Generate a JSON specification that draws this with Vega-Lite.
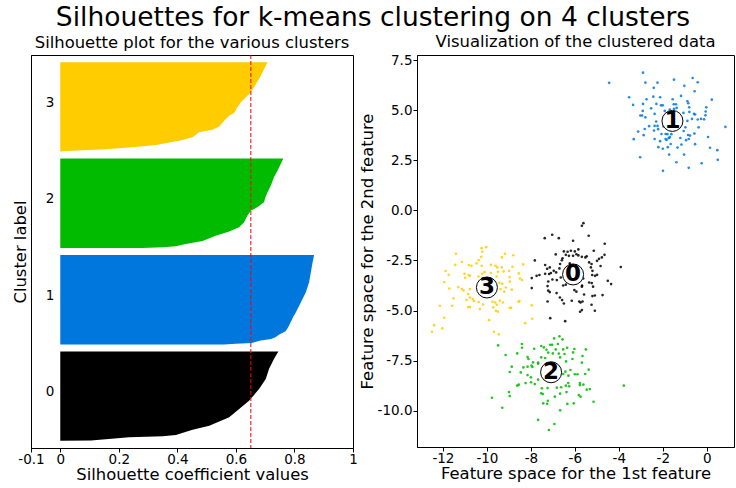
{
  "$schema": "https://vega.github.io/schema/vega-lite/v6.json",
  "background": "white",
  "padding": {"left": 11, "top": 4, "right": 0, "bottom": 1},
  "title": {
    "text": "Silhouettes for k-means clustering on 4 clusters",
    "fontSize": 26.5,
    "fontWeight": "normal",
    "font": "DejaVu Sans",
    "color": "black",
    "anchor": "middle",
    "offset": 2
  },
  "config": {
    "font": "DejaVu Sans",
    "view": {"stroke": "black", "strokeWidth": 1},
    "axis": {
      "domainColor": "black",
      "tickColor": "black",
      "labelColor": "black",
      "titleColor": "black",
      "labelFont": "DejaVu Sans",
      "titleFont": "DejaVu Sans",
      "labelFontSize": 13.5,
      "titleFontSize": 16.4,
      "titleFontWeight": "normal",
      "grid": false,
      "tickSize": 4,
      "labelPadding": 0,
      "labelOverlap": false,
      "labelFlush": false
    },
    "title": {"fontWeight": "normal", "color": "black", "font": "DejaVu Sans"},
    "concat": {"spacing": 0}
  },
  "datasets": {
    "silhouette": [
      {"cluster": "0", "pos": 10, "value": 0.0},
      {"cluster": "0", "pos": 10.5, "value": 0.105},
      {"cluster": "0", "pos": 15, "value": 0.235},
      {"cluster": "0", "pos": 16.4, "value": 0.35},
      {"cluster": "0", "pos": 18.2, "value": 0.395},
      {"cluster": "0", "pos": 25.6, "value": 0.452},
      {"cluster": "0", "pos": 31.2, "value": 0.509},
      {"cluster": "0", "pos": 42.9, "value": 0.577},
      {"cluster": "0", "pos": 54.5, "value": 0.611},
      {"cluster": "0", "pos": 66.1, "value": 0.645},
      {"cluster": "0", "pos": 68.5, "value": 0.65},
      {"cluster": "0", "pos": 82.5, "value": 0.679},
      {"cluster": "0", "pos": 96.5, "value": 0.702},
      {"cluster": "0", "pos": 110.5, "value": 0.713},
      {"cluster": "0", "pos": 124.5, "value": 0.730},
      {"cluster": "0", "pos": 135, "value": 0.745},
      {"cluster": "1", "pos": 145, "value": 0.56},
      {"cluster": "1", "pos": 146, "value": 0.60},
      {"cluster": "1", "pos": 147, "value": 0.655},
      {"cluster": "1", "pos": 150, "value": 0.68},
      {"cluster": "1", "pos": 152.7, "value": 0.72},
      {"cluster": "1", "pos": 155, "value": 0.735},
      {"cluster": "1", "pos": 158.8, "value": 0.748},
      {"cluster": "1", "pos": 163.5, "value": 0.77},
      {"cluster": "1", "pos": 170, "value": 0.78},
      {"cluster": "1", "pos": 176, "value": 0.787},
      {"cluster": "1", "pos": 183, "value": 0.795},
      {"cluster": "1", "pos": 190, "value": 0.805},
      {"cluster": "1", "pos": 204, "value": 0.822},
      {"cluster": "1", "pos": 218, "value": 0.839},
      {"cluster": "1", "pos": 232, "value": 0.85},
      {"cluster": "1", "pos": 246, "value": 0.856},
      {"cluster": "1", "pos": 260, "value": 0.862},
      {"cluster": "1", "pos": 270, "value": 0.867},
      {"cluster": "2", "pos": 280, "value": 0.28},
      {"cluster": "2", "pos": 281, "value": 0.35},
      {"cluster": "2", "pos": 282.3, "value": 0.395},
      {"cluster": "2", "pos": 285.5, "value": 0.429},
      {"cluster": "2", "pos": 289.7, "value": 0.486},
      {"cluster": "2", "pos": 297, "value": 0.531},
      {"cluster": "2", "pos": 303, "value": 0.577},
      {"cluster": "2", "pos": 309, "value": 0.611},
      {"cluster": "2", "pos": 316, "value": 0.628},
      {"cluster": "2", "pos": 325, "value": 0.639},
      {"cluster": "2", "pos": 332, "value": 0.651},
      {"cluster": "2", "pos": 337, "value": 0.673},
      {"cluster": "2", "pos": 344, "value": 0.696},
      {"cluster": "2", "pos": 350, "value": 0.70},
      {"cluster": "2", "pos": 358, "value": 0.708},
      {"cluster": "2", "pos": 367, "value": 0.719},
      {"cluster": "2", "pos": 379, "value": 0.730},
      {"cluster": "2", "pos": 388, "value": 0.742},
      {"cluster": "2", "pos": 397.5, "value": 0.753},
      {"cluster": "2", "pos": 405, "value": 0.762},
      {"cluster": "3", "pos": 415, "value": -0.01},
      {"cluster": "3", "pos": 416, "value": 0.04},
      {"cluster": "3", "pos": 417, "value": 0.10},
      {"cluster": "3", "pos": 418, "value": 0.156},
      {"cluster": "3", "pos": 421, "value": 0.247},
      {"cluster": "3", "pos": 424, "value": 0.327},
      {"cluster": "3", "pos": 430, "value": 0.406},
      {"cluster": "3", "pos": 435, "value": 0.452},
      {"cluster": "3", "pos": 441.8, "value": 0.474},
      {"cluster": "3", "pos": 445.5, "value": 0.52},
      {"cluster": "3", "pos": 450, "value": 0.543},
      {"cluster": "3", "pos": 458, "value": 0.56},
      {"cluster": "3", "pos": 465, "value": 0.577},
      {"cluster": "3", "pos": 469, "value": 0.594},
      {"cluster": "3", "pos": 477, "value": 0.605},
      {"cluster": "3", "pos": 484, "value": 0.617},
      {"cluster": "3", "pos": 491, "value": 0.634},
      {"cluster": "3", "pos": 498, "value": 0.651},
      {"cluster": "3", "pos": 509, "value": 0.668},
      {"cluster": "3", "pos": 521, "value": 0.685},
      {"cluster": "3", "pos": 530, "value": 0.696},
      {"cluster": "3", "pos": 540, "value": 0.708}
    ],
    "clusterLabels": [
      {"cluster": "0", "pos": 72.5},
      {"cluster": "1", "pos": 207.5},
      {"cluster": "2", "pos": 342.5},
      {"cluster": "3", "pos": 477.5}
    ],
    "average": [{"avg": 0.651}],
    "centers": [
      {"cluster": "0", "x": -6.08, "y": -3.20},
      {"cluster": "1", "x": -1.56, "y": 4.46},
      {"cluster": "2", "x": -7.08, "y": -8.08},
      {"cluster": "3", "x": -10.0, "y": -3.85}
    ],
    "points": [
      {"cluster": "1", "x": -2.90, "y": 6.87}, {"cluster": "1", "x": -4.44, "y": 6.36}, {"cluster": "1", "x": -2.79, "y": 6.37},
      {"cluster": "1", "x": -2.24, "y": 6.37}, {"cluster": "1", "x": -1.49, "y": 6.52}, {"cluster": "1", "x": -0.64, "y": 6.60},
      {"cluster": "1", "x": -0.41, "y": 6.39}, {"cluster": "1", "x": -2.41, "y": 6.11}, {"cluster": "1", "x": -1.02, "y": 6.21},
      {"cluster": "1", "x": -0.55, "y": 5.94}, {"cluster": "1", "x": -3.53, "y": 5.64}, {"cluster": "1", "x": -2.12, "y": 5.64},
      {"cluster": "1", "x": -2.43, "y": 5.67}, {"cluster": "1", "x": -1.17, "y": 5.71}, {"cluster": "1", "x": 0.23, "y": 5.52},
      {"cluster": "1", "x": -3.35, "y": 5.26}, {"cluster": "1", "x": -2.90, "y": 5.31}, {"cluster": "1", "x": -2.74, "y": 5.54},
      {"cluster": "1", "x": -2.29, "y": 5.31}, {"cluster": "1", "x": -2.08, "y": 5.24}, {"cluster": "1", "x": -2.00, "y": 5.24},
      {"cluster": "1", "x": -1.55, "y": 5.54}, {"cluster": "1", "x": -1.50, "y": 5.29}, {"cluster": "1", "x": -1.40, "y": 5.29},
      {"cluster": "1", "x": -0.88, "y": 5.44}, {"cluster": "1", "x": -0.84, "y": 5.34}, {"cluster": "1", "x": -2.53, "y": 5.09},
      {"cluster": "1", "x": -2.91, "y": 4.96}, {"cluster": "1", "x": -1.91, "y": 4.96}, {"cluster": "1", "x": -1.68, "y": 5.03},
      {"cluster": "1", "x": -1.49, "y": 5.06}, {"cluster": "1", "x": -1.37, "y": 5.11}, {"cluster": "1", "x": -0.80, "y": 5.14},
      {"cluster": "1", "x": -0.02, "y": 5.14}, {"cluster": "1", "x": -0.05, "y": 4.93}, {"cluster": "1", "x": -3.02, "y": 4.73},
      {"cluster": "1", "x": -2.94, "y": 4.73}, {"cluster": "1", "x": -2.79, "y": 4.64}, {"cluster": "1", "x": -2.37, "y": 4.81},
      {"cluster": "1", "x": -0.58, "y": 4.81}, {"cluster": "1", "x": -0.53, "y": 4.78}, {"cluster": "1", "x": -0.79, "y": 4.91},
      {"cluster": "1", "x": -1.06, "y": 4.86}, {"cluster": "1", "x": -0.67, "y": 4.56}, {"cluster": "1", "x": -0.41, "y": 4.53},
      {"cluster": "1", "x": -0.26, "y": 4.56}, {"cluster": "1", "x": -0.12, "y": 4.54}, {"cluster": "1", "x": -0.06, "y": 4.74},
      {"cluster": "1", "x": -0.88, "y": 4.46}, {"cluster": "1", "x": -2.30, "y": 4.43}, {"cluster": "1", "x": -2.62, "y": 4.20},
      {"cluster": "1", "x": -2.37, "y": 4.21}, {"cluster": "1", "x": -2.24, "y": 4.21}, {"cluster": "1", "x": -2.21, "y": 4.05},
      {"cluster": "1", "x": -1.97, "y": 4.18}, {"cluster": "1", "x": -0.97, "y": 4.14}, {"cluster": "1", "x": -0.37, "y": 4.14},
      {"cluster": "1", "x": 0.85, "y": 4.16}, {"cluster": "1", "x": -3.12, "y": 3.93}, {"cluster": "1", "x": -2.82, "y": 4.06},
      {"cluster": "1", "x": -2.40, "y": 3.98}, {"cluster": "1", "x": -2.06, "y": 3.81}, {"cluster": "1", "x": -1.87, "y": 3.81},
      {"cluster": "1", "x": -1.79, "y": 3.80}, {"cluster": "1", "x": -1.61, "y": 3.80}, {"cluster": "1", "x": -1.05, "y": 3.96},
      {"cluster": "1", "x": -0.85, "y": 3.76}, {"cluster": "1", "x": -0.76, "y": 3.73}, {"cluster": "1", "x": -0.56, "y": 3.83},
      {"cluster": "1", "x": 0.06, "y": 3.66}, {"cluster": "1", "x": -3.32, "y": 3.55}, {"cluster": "1", "x": -2.87, "y": 3.75},
      {"cluster": "1", "x": -2.37, "y": 3.56}, {"cluster": "1", "x": -2.12, "y": 3.45}, {"cluster": "1", "x": -1.87, "y": 3.56},
      {"cluster": "1", "x": -1.68, "y": 3.65}, {"cluster": "1", "x": -1.83, "y": 3.51}, {"cluster": "1", "x": -1.73, "y": 3.60},
      {"cluster": "1", "x": -1.20, "y": 3.61}, {"cluster": "1", "x": -0.94, "y": 3.50}, {"cluster": "1", "x": -0.82, "y": 3.56},
      {"cluster": "1", "x": -2.20, "y": 3.15}, {"cluster": "1", "x": -2.00, "y": 3.07}, {"cluster": "1", "x": -1.77, "y": 3.15},
      {"cluster": "1", "x": -1.64, "y": 3.31}, {"cluster": "1", "x": -1.33, "y": 3.13}, {"cluster": "1", "x": -1.15, "y": 3.28},
      {"cluster": "1", "x": -0.53, "y": 3.30}, {"cluster": "1", "x": 0.15, "y": 3.12}, {"cluster": "1", "x": 0.48, "y": 3.00},
      {"cluster": "1", "x": -1.71, "y": 2.78}, {"cluster": "1", "x": -1.03, "y": 2.78}, {"cluster": "1", "x": -3.03, "y": 2.65},
      {"cluster": "1", "x": -1.38, "y": 2.40}, {"cluster": "1", "x": -0.23, "y": 2.35}, {"cluster": "1", "x": 0.50, "y": 2.52},
      {"cluster": "1", "x": -0.82, "y": 2.12}, {"cluster": "1", "x": -1.99, "y": 1.97},

      {"cluster": "3", "x": -10.24, "y": -1.89}, {"cluster": "3", "x": -10.03, "y": -1.84}, {"cluster": "3", "x": -10.21, "y": -2.07},
      {"cluster": "3", "x": -11.41, "y": -2.17}, {"cluster": "3", "x": -10.26, "y": -2.32}, {"cluster": "3", "x": -9.18, "y": -2.17},
      {"cluster": "3", "x": -8.80, "y": -2.24}, {"cluster": "3", "x": -9.32, "y": -2.35}, {"cluster": "3", "x": -10.38, "y": -2.49},
      {"cluster": "3", "x": -10.47, "y": -2.65}, {"cluster": "3", "x": -11.14, "y": -2.58}, {"cluster": "3", "x": -11.44, "y": -2.72},
      {"cluster": "3", "x": -10.82, "y": -2.73}, {"cluster": "3", "x": -10.70, "y": -2.77}, {"cluster": "3", "x": -10.24, "y": -2.77},
      {"cluster": "3", "x": -9.82, "y": -2.72}, {"cluster": "3", "x": -9.61, "y": -2.77}, {"cluster": "3", "x": -9.53, "y": -2.85},
      {"cluster": "3", "x": -9.32, "y": -2.85}, {"cluster": "3", "x": -8.84, "y": -2.82}, {"cluster": "3", "x": -8.35, "y": -2.70},
      {"cluster": "3", "x": -11.88, "y": -3.03}, {"cluster": "3", "x": -11.74, "y": -3.22}, {"cluster": "3", "x": -11.02, "y": -3.17},
      {"cluster": "3", "x": -10.83, "y": -3.23}, {"cluster": "3", "x": -10.21, "y": -3.17}, {"cluster": "3", "x": -10.11, "y": -3.08},
      {"cluster": "3", "x": -9.82, "y": -3.13}, {"cluster": "3", "x": -9.50, "y": -3.07}, {"cluster": "3", "x": -9.24, "y": -3.05},
      {"cluster": "3", "x": -8.99, "y": -3.03}, {"cluster": "3", "x": -8.55, "y": -3.15}, {"cluster": "3", "x": -10.99, "y": -3.37},
      {"cluster": "3", "x": -10.77, "y": -3.27}, {"cluster": "3", "x": -10.38, "y": -3.30}, {"cluster": "3", "x": -9.56, "y": -3.30},
      {"cluster": "3", "x": -8.97, "y": -3.33}, {"cluster": "3", "x": -8.50, "y": -3.40}, {"cluster": "3", "x": -8.96, "y": -3.55},
      {"cluster": "3", "x": -8.40, "y": -3.48}, {"cluster": "3", "x": -11.94, "y": -3.58}, {"cluster": "3", "x": -11.30, "y": -3.83},
      {"cluster": "3", "x": -11.14, "y": -3.93}, {"cluster": "3", "x": -11.06, "y": -4.00}, {"cluster": "3", "x": -10.77, "y": -3.93},
      {"cluster": "3", "x": -9.43, "y": -3.62}, {"cluster": "3", "x": -9.30, "y": -3.67}, {"cluster": "3", "x": -9.38, "y": -3.93},
      {"cluster": "3", "x": -9.14, "y": -3.85}, {"cluster": "3", "x": -8.87, "y": -3.96}, {"cluster": "3", "x": -9.21, "y": -4.06},
      {"cluster": "3", "x": -11.71, "y": -3.90}, {"cluster": "3", "x": -10.85, "y": -4.18}, {"cluster": "3", "x": -10.77, "y": -4.35},
      {"cluster": "3", "x": -10.65, "y": -4.43}, {"cluster": "3", "x": -10.38, "y": -4.58}, {"cluster": "3", "x": -10.59, "y": -4.53},
      {"cluster": "3", "x": -10.17, "y": -4.70}, {"cluster": "3", "x": -9.74, "y": -4.56}, {"cluster": "3", "x": -9.62, "y": -4.60},
      {"cluster": "3", "x": -9.55, "y": -4.71}, {"cluster": "3", "x": -9.41, "y": -4.51}, {"cluster": "3", "x": -9.27, "y": -4.60},
      {"cluster": "3", "x": -8.56, "y": -4.56}, {"cluster": "3", "x": -8.52, "y": -4.53}, {"cluster": "3", "x": -10.93, "y": -4.48},
      {"cluster": "3", "x": -11.52, "y": -4.40}, {"cluster": "3", "x": -12.14, "y": -4.76}, {"cluster": "3", "x": -11.58, "y": -4.76},
      {"cluster": "3", "x": -10.85, "y": -4.83}, {"cluster": "3", "x": -10.77, "y": -4.83}, {"cluster": "3", "x": -10.32, "y": -4.93},
      {"cluster": "3", "x": -9.71, "y": -4.84}, {"cluster": "3", "x": -9.59, "y": -5.01}, {"cluster": "3", "x": -9.50, "y": -5.06},
      {"cluster": "3", "x": -8.96, "y": -4.86}, {"cluster": "3", "x": -8.90, "y": -4.86}, {"cluster": "3", "x": -7.96, "y": -4.74},
      {"cluster": "3", "x": -7.94, "y": -5.41}, {"cluster": "3", "x": -11.94, "y": -5.36}, {"cluster": "3", "x": -9.90, "y": -5.48},
      {"cluster": "3", "x": -8.26, "y": -5.63}, {"cluster": "3", "x": -12.40, "y": -5.73}, {"cluster": "3", "x": -12.03, "y": -5.89},
      {"cluster": "3", "x": -12.50, "y": -6.06}, {"cluster": "3", "x": -9.68, "y": -6.06}, {"cluster": "3", "x": -9.46, "y": -6.19},

      {"cluster": "0", "x": -5.61, "y": -0.64}, {"cluster": "0", "x": -5.68, "y": -0.77}, {"cluster": "0", "x": -7.37, "y": -1.39},
      {"cluster": "0", "x": -7.03, "y": -1.22}, {"cluster": "0", "x": -6.73, "y": -1.39}, {"cluster": "0", "x": -6.08, "y": -1.52},
      {"cluster": "0", "x": -5.37, "y": -1.27}, {"cluster": "0", "x": -4.64, "y": -1.67}, {"cluster": "0", "x": -6.50, "y": -2.05},
      {"cluster": "0", "x": -6.33, "y": -2.07}, {"cluster": "0", "x": -6.18, "y": -2.02}, {"cluster": "0", "x": -6.00, "y": -2.05},
      {"cluster": "0", "x": -5.84, "y": -1.95}, {"cluster": "0", "x": -5.93, "y": -2.19}, {"cluster": "0", "x": -5.84, "y": -2.25},
      {"cluster": "0", "x": -6.41, "y": -2.22}, {"cluster": "0", "x": -6.27, "y": -2.27}, {"cluster": "0", "x": -6.08, "y": -2.27},
      {"cluster": "0", "x": -5.68, "y": -2.32}, {"cluster": "0", "x": -5.52, "y": -2.35}, {"cluster": "0", "x": -5.46, "y": -2.29},
      {"cluster": "0", "x": -5.14, "y": -2.02}, {"cluster": "0", "x": -6.87, "y": -2.20}, {"cluster": "0", "x": -6.56, "y": -2.39},
      {"cluster": "0", "x": -6.59, "y": -2.49}, {"cluster": "0", "x": -4.65, "y": -2.22}, {"cluster": "0", "x": -4.77, "y": -2.35},
      {"cluster": "0", "x": -4.90, "y": -2.42}, {"cluster": "0", "x": -4.99, "y": -2.52}, {"cluster": "0", "x": -5.35, "y": -2.60},
      {"cluster": "0", "x": -6.23, "y": -2.65}, {"cluster": "0", "x": -6.67, "y": -2.68}, {"cluster": "0", "x": -7.82, "y": -2.50},
      {"cluster": "0", "x": -7.35, "y": -2.73}, {"cluster": "0", "x": -7.14, "y": -2.85}, {"cluster": "0", "x": -6.96, "y": -3.02},
      {"cluster": "0", "x": -7.26, "y": -2.92}, {"cluster": "0", "x": -7.61, "y": -3.23}, {"cluster": "0", "x": -7.74, "y": -3.27},
      {"cluster": "0", "x": -7.09, "y": -3.13}, {"cluster": "0", "x": -7.35, "y": -3.17}, {"cluster": "0", "x": -7.17, "y": -3.18},
      {"cluster": "0", "x": -6.85, "y": -3.10}, {"cluster": "0", "x": -6.70, "y": -2.90}, {"cluster": "0", "x": -5.24, "y": -2.68},
      {"cluster": "0", "x": -4.83, "y": -2.78}, {"cluster": "0", "x": -5.27, "y": -2.85}, {"cluster": "0", "x": -5.20, "y": -3.02},
      {"cluster": "0", "x": -5.21, "y": -3.23}, {"cluster": "0", "x": -5.08, "y": -3.27}, {"cluster": "0", "x": -4.99, "y": -3.22},
      {"cluster": "0", "x": -5.62, "y": -3.40}, {"cluster": "0", "x": -3.91, "y": -2.83}, {"cluster": "0", "x": -4.50, "y": -3.52},
      {"cluster": "0", "x": -4.35, "y": -3.68}, {"cluster": "0", "x": -7.96, "y": -3.38}, {"cluster": "0", "x": -7.02, "y": -3.45},
      {"cluster": "0", "x": -6.82, "y": -3.48}, {"cluster": "0", "x": -7.21, "y": -3.55}, {"cluster": "0", "x": -6.64, "y": -3.35},
      {"cluster": "0", "x": -7.24, "y": -3.78}, {"cluster": "0", "x": -6.41, "y": -3.71}, {"cluster": "0", "x": -6.53, "y": -3.75},
      {"cluster": "0", "x": -5.35, "y": -3.60}, {"cluster": "0", "x": -5.23, "y": -3.63}, {"cluster": "0", "x": -5.17, "y": -3.81},
      {"cluster": "0", "x": -5.67, "y": -3.76}, {"cluster": "0", "x": -5.68, "y": -3.81}, {"cluster": "0", "x": -7.21, "y": -4.01},
      {"cluster": "0", "x": -7.14, "y": -4.08}, {"cluster": "0", "x": -6.83, "y": -4.13}, {"cluster": "0", "x": -6.02, "y": -3.98},
      {"cluster": "0", "x": -5.93, "y": -4.06}, {"cluster": "0", "x": -5.58, "y": -4.20}, {"cluster": "0", "x": -5.09, "y": -4.25},
      {"cluster": "0", "x": -4.74, "y": -4.23}, {"cluster": "0", "x": -5.20, "y": -4.28}, {"cluster": "0", "x": -6.68, "y": -4.35},
      {"cluster": "0", "x": -6.58, "y": -4.48}, {"cluster": "0", "x": -6.50, "y": -4.65}, {"cluster": "0", "x": -7.24, "y": -4.55},
      {"cluster": "0", "x": -6.14, "y": -4.51}, {"cluster": "0", "x": -5.80, "y": -4.55}, {"cluster": "0", "x": -5.74, "y": -4.60},
      {"cluster": "0", "x": -5.65, "y": -4.55}, {"cluster": "0", "x": -5.24, "y": -4.71}, {"cluster": "0", "x": -5.68, "y": -4.98},
      {"cluster": "0", "x": -5.76, "y": -5.06}, {"cluster": "0", "x": -5.09, "y": -5.01}, {"cluster": "0", "x": -7.12, "y": -5.38},
      {"cluster": "0", "x": -6.44, "y": -5.53}, {"cluster": "0", "x": -7.96, "y": -3.88},

      {"cluster": "2", "x": -6.94, "y": -6.39}, {"cluster": "2", "x": -6.70, "y": -6.29}, {"cluster": "2", "x": -6.56, "y": -6.44},
      {"cluster": "2", "x": -9.49, "y": -6.74}, {"cluster": "2", "x": -8.41, "y": -6.67}, {"cluster": "2", "x": -8.40, "y": -6.86},
      {"cluster": "2", "x": -7.85, "y": -6.91}, {"cluster": "2", "x": -7.53, "y": -6.77}, {"cluster": "2", "x": -7.41, "y": -6.84},
      {"cluster": "2", "x": -7.29, "y": -6.96}, {"cluster": "2", "x": -7.21, "y": -7.10}, {"cluster": "2", "x": -7.12, "y": -6.71},
      {"cluster": "2", "x": -7.03, "y": -6.71}, {"cluster": "2", "x": -6.87, "y": -6.94}, {"cluster": "2", "x": -6.77, "y": -6.67},
      {"cluster": "2", "x": -6.53, "y": -6.94}, {"cluster": "2", "x": -6.35, "y": -6.86}, {"cluster": "2", "x": -6.02, "y": -6.92},
      {"cluster": "2", "x": -5.50, "y": -6.94}, {"cluster": "2", "x": -9.15, "y": -7.22}, {"cluster": "2", "x": -8.62, "y": -7.14},
      {"cluster": "2", "x": -8.15, "y": -7.32}, {"cluster": "2", "x": -8.11, "y": -7.42}, {"cluster": "2", "x": -7.90, "y": -7.59},
      {"cluster": "2", "x": -7.67, "y": -7.60}, {"cluster": "2", "x": -7.53, "y": -7.34}, {"cluster": "2", "x": -7.35, "y": -7.37},
      {"cluster": "2", "x": -7.00, "y": -7.14}, {"cluster": "2", "x": -6.73, "y": -7.15}, {"cluster": "2", "x": -6.67, "y": -7.34},
      {"cluster": "2", "x": -6.47, "y": -7.17}, {"cluster": "2", "x": -6.40, "y": -7.54}, {"cluster": "2", "x": -6.11, "y": -7.42},
      {"cluster": "2", "x": -6.08, "y": -7.09}, {"cluster": "2", "x": -5.65, "y": -7.27}, {"cluster": "2", "x": -5.68, "y": -7.60},
      {"cluster": "2", "x": -8.87, "y": -7.80}, {"cluster": "2", "x": -8.34, "y": -7.84}, {"cluster": "2", "x": -8.15, "y": -7.80},
      {"cluster": "2", "x": -7.97, "y": -7.75}, {"cluster": "2", "x": -7.93, "y": -7.82}, {"cluster": "2", "x": -7.67, "y": -7.65},
      {"cluster": "2", "x": -8.96, "y": -8.07}, {"cluster": "2", "x": -8.46, "y": -8.09}, {"cluster": "2", "x": -8.15, "y": -8.22},
      {"cluster": "2", "x": -8.00, "y": -8.33}, {"cluster": "2", "x": -7.67, "y": -8.45}, {"cluster": "2", "x": -7.40, "y": -8.42},
      {"cluster": "2", "x": -6.53, "y": -8.17}, {"cluster": "2", "x": -6.43, "y": -8.05}, {"cluster": "2", "x": -6.20, "y": -7.97},
      {"cluster": "2", "x": -6.29, "y": -8.25}, {"cluster": "2", "x": -6.00, "y": -8.18}, {"cluster": "2", "x": -5.88, "y": -8.18},
      {"cluster": "2", "x": -5.53, "y": -8.17}, {"cluster": "2", "x": -5.37, "y": -7.95}, {"cluster": "2", "x": -8.24, "y": -8.62},
      {"cluster": "2", "x": -7.99, "y": -8.58}, {"cluster": "2", "x": -7.82, "y": -8.67}, {"cluster": "2", "x": -8.62, "y": -8.75},
      {"cluster": "2", "x": -8.55, "y": -8.70}, {"cluster": "2", "x": -7.50, "y": -8.88}, {"cluster": "2", "x": -7.24, "y": -8.87},
      {"cluster": "2", "x": -6.82, "y": -8.85}, {"cluster": "2", "x": -6.62, "y": -8.83}, {"cluster": "2", "x": -6.41, "y": -8.75},
      {"cluster": "2", "x": -6.26, "y": -8.78}, {"cluster": "2", "x": -6.30, "y": -8.62}, {"cluster": "2", "x": -5.77, "y": -8.62},
      {"cluster": "2", "x": -5.77, "y": -8.72}, {"cluster": "2", "x": -5.61, "y": -8.70}, {"cluster": "2", "x": -5.46, "y": -8.95},
      {"cluster": "2", "x": -5.32, "y": -8.92}, {"cluster": "2", "x": -9.00, "y": -9.07}, {"cluster": "2", "x": -8.96, "y": -9.27},
      {"cluster": "2", "x": -9.77, "y": -9.35}, {"cluster": "2", "x": -7.53, "y": -9.13}, {"cluster": "2", "x": -7.46, "y": -9.17},
      {"cluster": "2", "x": -6.91, "y": -9.30}, {"cluster": "2", "x": -6.67, "y": -9.15}, {"cluster": "2", "x": -6.38, "y": -9.07},
      {"cluster": "2", "x": -5.82, "y": -9.22}, {"cluster": "2", "x": -5.74, "y": -9.30}, {"cluster": "2", "x": -5.15, "y": -9.55},
      {"cluster": "2", "x": -7.44, "y": -9.63}, {"cluster": "2", "x": -7.26, "y": -9.65}, {"cluster": "2", "x": -7.23, "y": -9.50},
      {"cluster": "2", "x": -6.34, "y": -9.66}, {"cluster": "2", "x": -6.05, "y": -9.63}, {"cluster": "2", "x": -9.30, "y": -9.85},
      {"cluster": "2", "x": -6.67, "y": -9.98}, {"cluster": "2", "x": -7.67, "y": -10.46}, {"cluster": "2", "x": -6.93, "y": -10.66},
      {"cluster": "2", "x": -7.18, "y": -10.96}, {"cluster": "2", "x": -3.77, "y": -8.75}
    ]
  },
  "hconcat": [
    {
      "width": 322,
      "height": 393,
      "title": {"text": "Silhouette plot for the various clusters", "fontSize": 16.4, "offset": 3},
      "layer": [
        {
          "data": {"name": "silhouette"},
          "mark": {"type": "area", "orient": "horizontal", "interpolate": "linear"},
          "encoding": {
            "y": {
              "field": "pos",
              "type": "quantitative",
              "scale": {"domain": [0, 550], "nice": false, "zero": false},
              "axis": {"title": "Cluster label", "labels": false, "ticks": false, "titlePadding": 3}
            },
            "x": {
              "field": "value",
              "type": "quantitative",
              "stack": null,
              "scale": {"domain": [-0.1, 1], "nice": false},
              "axis": {
                "title": "Silhouette coefficient values",
                "values": [-0.1, 0, 0.2, 0.4, 0.6, 0.8, 1],
                "labelExpr": "datum.value < 0 ? '-0.1' : (datum.value == 0 ? '0' : (datum.value == 1 ? '1' : format(datum.value, '.1f')))",
                "titlePadding": 1
              }
            },
            "x2": {"datum": 0},
            "color": {
              "field": "cluster",
              "type": "nominal",
              "scale": {"domain": ["0", "1", "2", "3"], "range": ["#000000", "#0077dd", "#00bb00", "#ffcc00"]},
              "legend": null
            }
          }
        },
        {
          "data": {"name": "clusterLabels"},
          "mark": {"type": "text", "align": "left", "baseline": "alphabetic", "fontSize": 13.5, "color": "black"},
          "encoding": {
            "x": {"datum": -0.05, "type": "quantitative"},
            "y": {"field": "pos", "type": "quantitative"},
            "text": {"field": "cluster", "type": "nominal"}
          }
        },
        {
          "data": {"name": "average"},
          "mark": {"type": "rule", "color": "red", "strokeDash": [4, 2], "strokeWidth": 1},
          "encoding": {
            "x": {"field": "avg", "type": "quantitative"}
          }
        }
      ]
    },
    {
      "width": 317,
      "height": 392,
      "title": {"text": "Visualization of the clustered data", "fontSize": 16.4, "offset": 3},
      "layer": [
        {
          "data": {"name": "points"},
          "mark": {"type": "circle", "size": 7, "opacity": 0.85},
          "encoding": {
            "x": {
              "field": "x",
              "type": "quantitative",
              "scale": {"domain": [-13.18, 1.24], "nice": false, "zero": false},
              "axis": {
                "title": "Feature space for the 1st feature",
                "values": [-12, -10, -8, -6, -4, -2, 0],
                "labelExpr": "(datum.value < 0 ? '-' : '') + format(abs(datum.value), 'd')",
                "titlePadding": 1
              }
            },
            "y": {
              "field": "y",
              "type": "quantitative",
              "scale": {"domain": [-11.81, 7.75], "nice": false, "zero": false},
              "axis": {
                "title": "Feature space for the 2nd feature",
                "values": [-10, -7.5, -5, -2.5, 0, 2.5, 5, 7.5],
                "labelExpr": "(datum.value < 0 ? '-' : '') + format(abs(datum.value), '.1f')",
                "titlePadding": 2,
                "labelPadding": 1
              }
            },
            "color": {
              "field": "cluster",
              "type": "nominal",
              "scale": {"domain": ["0", "1", "2", "3"], "range": ["#000000", "#0077dd", "#00bb00", "#ffcc00"]},
              "legend": null
            }
          }
        },
        {
          "data": {"name": "centers"},
          "mark": {"type": "point", "shape": "circle", "filled": true, "fill": "white", "stroke": "black", "strokeWidth": 1, "size": 441, "opacity": 1},
          "encoding": {
            "x": {"field": "x", "type": "quantitative"},
            "y": {"field": "y", "type": "quantitative"}
          }
        },
        {
          "data": {"name": "centers"},
          "mark": {"type": "text", "align": "center", "baseline": "middle", "fontSize": 23, "fontWeight": "bold", "color": "black"},
          "encoding": {
            "x": {"field": "x", "type": "quantitative"},
            "y": {"field": "y", "type": "quantitative"},
            "text": {"field": "cluster", "type": "nominal"}
          }
        }
      ]
    }
  ]
}
